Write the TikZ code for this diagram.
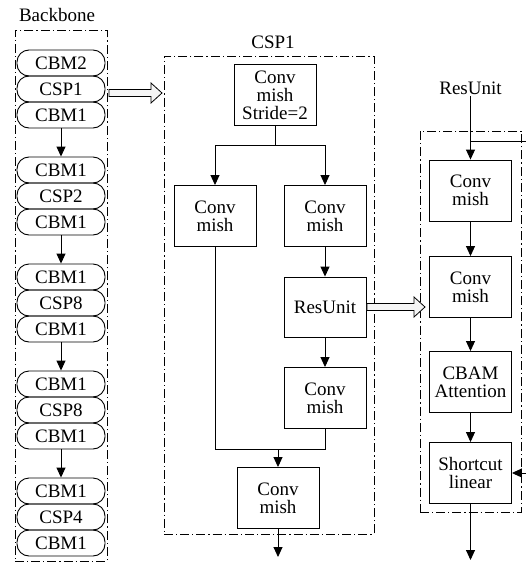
\documentclass[tikz,border=0pt]{standalone}
\usepackage{fontspec}
\setmainfont{Liberation Serif}
\usetikzlibrary{arrows.meta,calc}
\tikzset{
  pill/.style={draw, rounded corners=12pt, minimum width=88pt, minimum height=26pt, inner sep=0pt},
  blk/.style={draw, minimum width=82pt, minimum height=61pt, inner sep=0pt, align=center},
  dd/.style={draw, dash pattern=on 9pt off 3pt on 1.2pt off 3pt, inner sep=0pt},
  arr/.style={-{Triangle[length=10pt,width=9pt]}},
  hollow/.style={draw, fill=gray!8, line width=0.8pt},
  lbl/.style={inner sep=1pt}
}
\newcommand\hollowarr[2]{\path[hollow] let \p1=(#1), \p2=(#2) in
  (\x1,\y1+3.5pt) -- (\x2-11pt,\y1+3.5pt) -- (\x2-11pt,\y1+10pt) -- (\x2,\y1) --
  (\x2-11pt,\y1-10pt) -- (\x2-11pt,\y1-3.5pt) -- (\x1,\y1-3.5pt) -- cycle;}
\begin{document}
\begin{tikzpicture}[x=1pt,y=-1pt,line width=0.9pt,font=\fontsize{19}{18}\selectfont]
\useasboundingbox (0,0) rectangle (526,562);
% Backbone
\node[lbl] (bbt) at (57,15) {Backbone};
\node[dd, minimum width=92pt, minimum height=531pt] (bb) at (61,295.5) {};
\foreach \g/\n/\y in {1/CSP1/63, 2/CSP2/170, 3/CSP8/277, 4/CSP8/384, 5/CSP4/491} {
  \node[pill] (g\g a) at (61,\y) {\ifnum\g=1 CBM2\else CBM1\fi};
  \node[pill] (g\g c) at (61,\y+52) {CBM1};
  \node[pill] (g\g b) at (61,\y+26) {\n};
}
\foreach \a/\b in {1/2,2/3,3/4,4/5} \draw[arr] (g\a c.south) -- (g\b a.north);
% CSP1
\node[lbl] (csptitle) at (273,42) {CSP1};
\node[dd, minimum width=210pt, minimum height=478pt] (csp) at (269,295) {};
\node[blk] (top) at (275,95) {Conv\\mish\\Stride=2};
\node[blk] (L) at (215,216) {Conv\\mish};
\node[blk] (R) at (325,216) {Conv\\mish};
\node[blk, minimum height=60pt] (res) at (325,307) {ResUnit};
\node[blk] (c4) at (325,398) {Conv\\mish};
\node[blk] (fin) at (278,498) {Conv\\mish};
\coordinate (sp) at (275,145);
\draw (top.south) -- (sp);
\draw[arr] (sp) -| (L.north);
\draw[arr] (sp) -| (R.north);
\draw[arr] (R.south) -- (res.north);
\draw[arr] (res.south) -- (c4.north);
\coordinate (mg) at (278,449);
\draw (L.south) |- (mg);
\draw (c4.south) |- (mg);
\draw[arr] (mg) -- (fin.north);
\coordinate (out1) at (278,557);
\draw[arr] (fin.south) -- (out1);
% ResUnit detail
\node[lbl] (rlbl) at (470.5,88) {ResUnit};
\node[dd, minimum width=101pt, minimum height=381pt] (rbox) at (470.5,321.5) {};
\node[blk] (rc1) at (470.5,190.5) {Conv\\mish};
\node[blk] (rc2) at (470.5,287) {Conv\\mish};
\node[blk] (cbam) at (470.5,382) {CBAM\\Attention};
\node[blk] (short) at (470.5,473) {Shortcut\\linear};
\draw[arr] (rlbl.south) -- (rc1.north);
\coordinate (br) at (470.5,141);
\coordinate (redge) at (526,141);
\draw (br) -- (redge);
\draw[arr] (rc1.south) -- (rc2.north);
\draw[arr] (rc2.south) -- (cbam.north);
\draw[arr] (cbam.south) -- (short.north);
\coordinate (sin) at (526,473);
\draw[arr] (sin) -- (short.east);
\coordinate (out2) at (470.5,560);
\draw[arr] (short.south) -- (out2);
% hollow arrows
\coordinate (h1s) at (109,93);
\coordinate (h1e) at (162,93);
\hollowarr{h1s}{h1e}
\coordinate (h2s) at ($(res.east)+(0.5,0)$);
\coordinate (h2e) at (425,307);
\hollowarr{h2s}{h2e}
\end{tikzpicture}
\end{document}
